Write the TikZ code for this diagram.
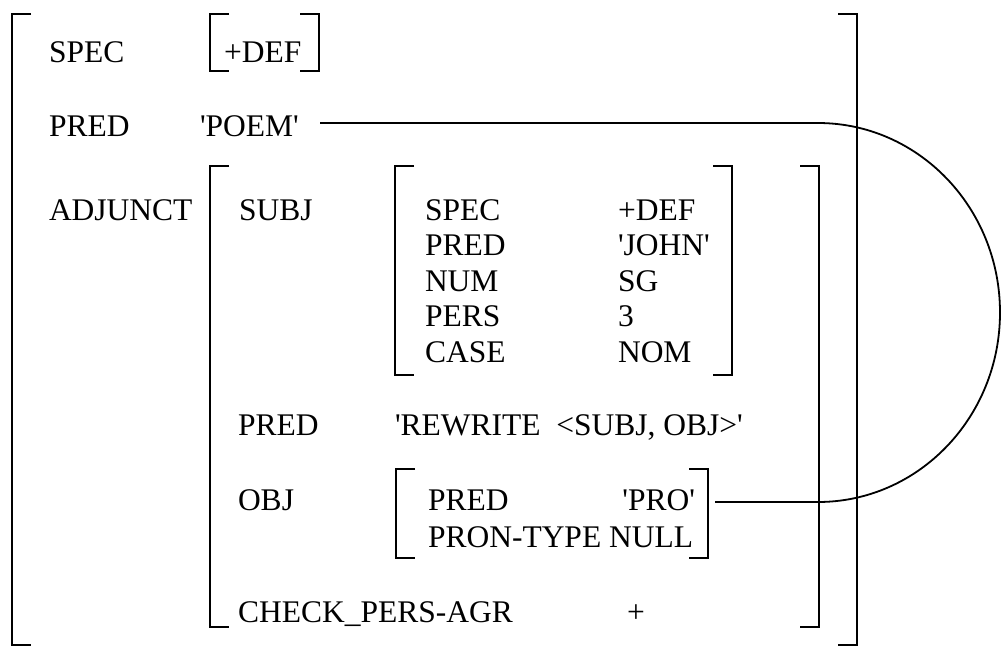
\documentclass[tikz,border=0pt]{standalone}
\usepackage{fontspec}
\setmainfont{Liberation Serif}
\newcommand{\q}{\textquotesingle}
\begin{document}
\begin{tikzpicture}[x=1pt,y=-1pt,
  lbl/.style={anchor=base west, inner sep=0pt, outer sep=0pt, font=\fontsize{31.5}{36}\selectfont},
  brk/.style={line width=2.2pt, line join=miter},
  conn/.style={line width=1.8pt}]
\useasboundingbox (0,0) rectangle (1001,648);
% outer bracket
\draw[brk] (31,14) -- (12,14) -- (12,645) -- (31,645);
\draw[brk] (838,14) -- (857,14) -- (857,645) -- (838,645);
% SPEC +DEF bracket
\draw[brk] (229,14) -- (210,14) -- (210,71) -- (229,71);
\draw[brk] (300,14) -- (319,14) -- (319,71) -- (300,71);
% ADJUNCT bracket
\draw[brk] (229,166) -- (210,166) -- (210,627) -- (229,627);
\draw[brk] (800,166) -- (819,166) -- (819,627) -- (800,627);
% SUBJ bracket
\draw[brk] (414,166) -- (395,166) -- (395,375) -- (414,375);
\draw[brk] (713,166) -- (732,166) -- (732,375) -- (713,375);
% OBJ bracket
\draw[brk] (415,469) -- (396,469) -- (396,558) -- (415,558);
\draw[brk] (689,469) -- (708,469) -- (708,558) -- (689,558);

% top level
\node[lbl] (spec) at (49,62) {SPEC};
\node[lbl] (def) at (224,62) {+DEF};
\node[lbl] (pred) at (49,136) {PRED};
\node[lbl] (poem) at (200,136) {\q POEM\q};
\node[lbl] (adjunct) at (49,220) {ADJUNCT};
% adjunct contents
\node[lbl] (subj) at (239,220) {SUBJ};
\node[lbl] (sspec) at (425,220) {SPEC};
\node[lbl] (sspecv) at (618,220) {+DEF};
\node[lbl] (spred) at (425,255.5) {PRED};
\node[lbl] (spredv) at (618,255.5) {\q JOHN\q};
\node[lbl] (snum) at (425,291) {NUM};
\node[lbl] (snumv) at (618,291) {SG};
\node[lbl] (spers) at (425,326.5) {PERS};
\node[lbl] (spersv) at (618,326.5) {3};
\node[lbl] (scase) at (425,362) {CASE};
\node[lbl] (scasev) at (618,362) {NOM};
\node[lbl] (apred) at (238,435) {PRED};
\node[lbl] (apredv) at (395,435) {\q REWRITE\ \ <SUBJ, OBJ>\q};
\node[lbl] (obj) at (238,510) {OBJ};
\node[lbl] (opred) at (428,510) {PRED};
\node[lbl, anchor=base east] (pro) at (695,510) {\q PRO\q};
\node[lbl] (opron) at (428,547) {PRON-TYPE NULL};
\node[lbl] (check) at (238,622) {CHECK\_PERS-AGR};
\node[lbl] (plus) at (627,622) {+};

% connector
\coordinate (a) at (320,123);
\coordinate (b) at (818,123);
\coordinate (d) at (715,502);
\draw[conn] (a) -- (b) arc[start angle=-90, end angle=90, x radius=182, y radius=189.5] -- (d);
\end{tikzpicture}
\end{document}
